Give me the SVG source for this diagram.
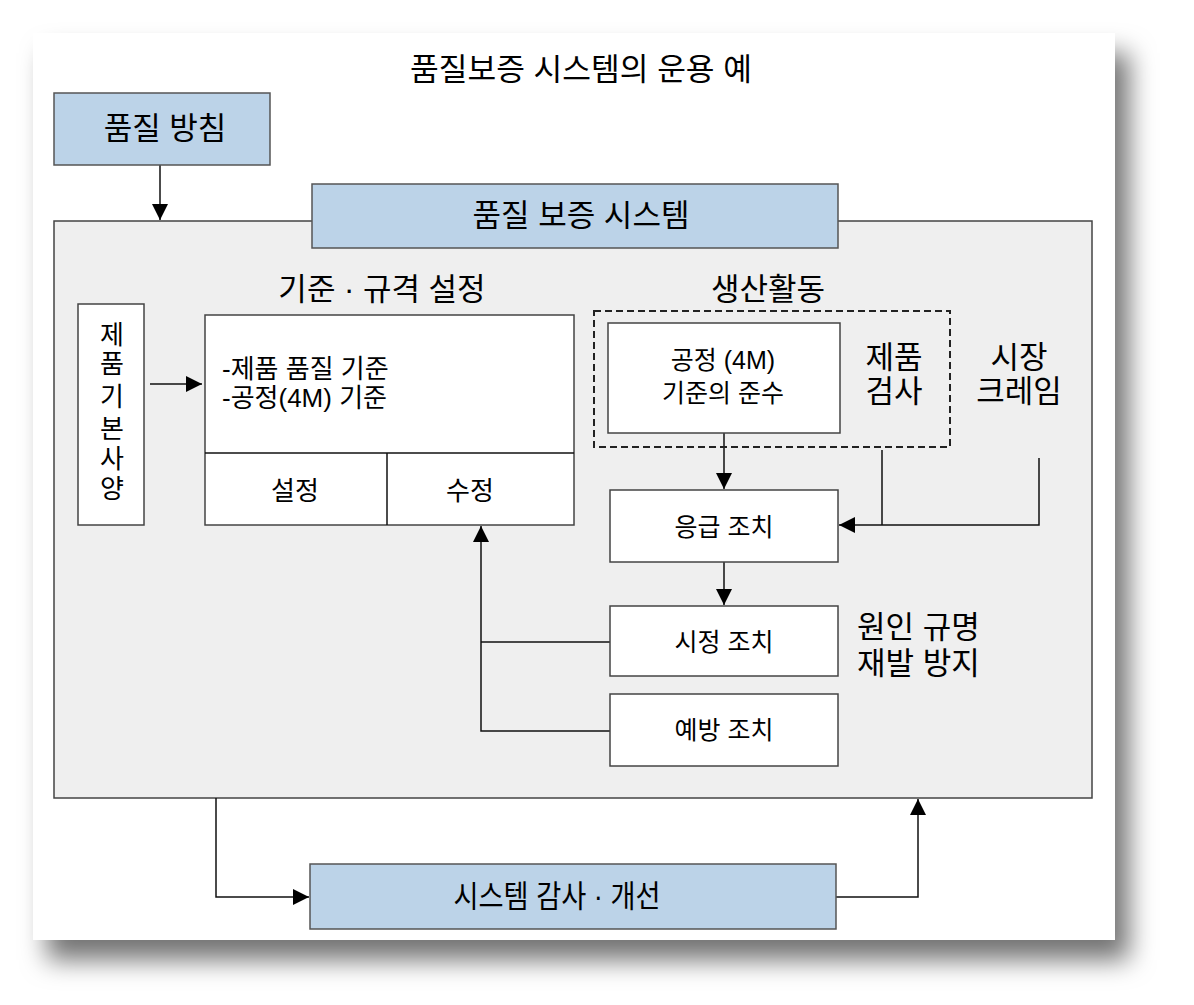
<svg xmlns="http://www.w3.org/2000/svg" width="1194" height="1005" viewBox="0 0 1194 1005">
<style>
text{font-family:"Liberation Sans","Noto Sans CJK KR",sans-serif;fill:#000;}
.blue{fill:#BCD3E8;stroke:#555;stroke-width:1.5;}
.white{fill:#fff;stroke:#444;stroke-width:1.5;}
.ln{fill:none;stroke:#111;stroke-width:1.5;}
.c{text-anchor:middle;}
.t31{font-size:31px;}
.t26{font-size:26px;}
.t25{font-size:25px;}
</style>
<defs>
<filter id="sh" x="-5%" y="-5%" width="115%" height="115%">
<feDropShadow dx="14" dy="20" stdDeviation="13" flood-color="#000" flood-opacity="0.55"/>
</filter>
<marker id="ahL" viewBox="0 0 14 14" refX="14" refY="7" markerWidth="16" markerHeight="16" markerUnits="userSpaceOnUse" orient="auto">
<path d="M0,0 L14,7 L0,14 z" fill="#000"/>
</marker>
</defs>
<rect x="0" y="0" width="1194" height="1005" fill="#fff"/>
<rect x="33" y="33" width="1082" height="907" fill="#fff" filter="url(#sh)"/>
<text class="c t31" x="581" y="80" textLength="342" lengthAdjust="spacingAndGlyphs">품질보증 시스템의 운용 예</text>

<g id="main-area">
<rect x="54" y="221" width="1038" height="577" fill="#EFEFEF" stroke="#444" stroke-width="1.5"/>
</g>

<g id="connectors">
<line class="ln" x1="160" y1="165" x2="160" y2="220" marker-end="url(#ahL)"/>
<line class="ln" x1="150" y1="384" x2="202" y2="384" marker-end="url(#ahL)"/>
<line class="ln" x1="724" y1="433" x2="724" y2="489" marker-end="url(#ahL)"/>
<polyline class="ln" points="882,450 882,525"/>
<polyline class="ln" points="1039,458 1039,525 839,525" marker-end="url(#ahL)"/>
<line class="ln" x1="724" y1="562" x2="724" y2="605" marker-end="url(#ahL)"/>
<polyline class="ln" points="610,642 481,642"/>
<polyline class="ln" points="610,731 481,731 481,526" marker-end="url(#ahL)"/>
<polyline class="ln" points="216,798 216,897 309,897" marker-end="url(#ahL)"/>
<polyline class="ln" points="836,897 918,897 918,799" marker-end="url(#ahL)"/>
</g>

<g id="policy">
<rect class="blue" x="54" y="93" width="216" height="72"/>
<text class="c t31" x="165" y="139">품질 방침</text>
</g>

<g id="qa-system">
<rect class="blue" x="312" y="184" width="526" height="64"/>
<text class="c t31" x="581" y="226">품질 보증 시스템</text>
</g>

<g id="std-title">
<text class="c t31" x="382" y="300">기준 · 규격 설정</text>
</g>

<g id="product-spec">
<rect class="white" x="78" y="304" width="66" height="221"/>
<text class="c t26" x="112" y="344">제</text>
<text class="c t26" x="112" y="373">품</text>
<text class="c t26" x="112" y="406">기</text>
<text class="c t26" x="112" y="438">본</text>
<text class="c t26" x="112" y="468">사</text>
<text class="c t26" x="112" y="498">양</text>
</g>

<g id="standards">
<rect class="white" x="205" y="315" width="369" height="210"/>
<line class="ln" x1="205" y1="453" x2="574" y2="453" stroke="#444"/>
<line class="ln" x1="387" y1="453" x2="387" y2="525" stroke="#444"/>
<text class="t26" x="222" y="378">-제품 품질 기준</text>
<text class="t26" x="222" y="407">-공정(4M) 기준</text>
<text class="c t26" x="295" y="500">설정</text>
<text class="c t26" x="470" y="500">수정</text>
</g>

<g id="production">
<text class="c t31" x="768" y="300">생산활동</text>
<rect x="594" y="311" width="356" height="136" fill="none" stroke="#222" stroke-width="2" stroke-dasharray="7,4"/>
</g>

<g id="process">
<rect class="white" x="608" y="323" width="232" height="110"/>
<text class="c t25" x="723" y="369">공정 (4M)</text>
<text class="c t25" x="723" y="402">기준의 준수</text>
</g>

<g id="inspection">
<text class="c t31" x="894" y="368">제품</text>
<text class="c t31" x="894" y="402">검사</text>
</g>

<g id="claim">
<text class="c t31" x="1019" y="368">시장</text>
<text class="c t31" x="1019" y="402">크레임</text>
</g>

<g id="emergency">
<rect class="white" x="610" y="490" width="228" height="72"/>
<text class="c t25" x="724" y="536">응급 조치</text>
</g>

<g id="corrective">
<rect class="white" x="610" y="606" width="228" height="70"/>
<text class="c t25" x="724" y="651">시정 조치</text>
</g>

<g id="cause">
<text class="t31" x="857" y="638">원인 규명</text>
<text class="t31" x="857" y="674">재발 방지</text>
</g>

<g id="preventive">
<rect class="white" x="610" y="694" width="228" height="72"/>
<text class="c t25" x="724" y="739">예방 조치</text>
</g>

<g id="audit">
<rect class="blue" x="310" y="864" width="526" height="65"/>
<text class="c t31" x="557" y="907" textLength="207" lengthAdjust="spacingAndGlyphs">시스템 감사 · 개선</text>
</g>
</svg>
